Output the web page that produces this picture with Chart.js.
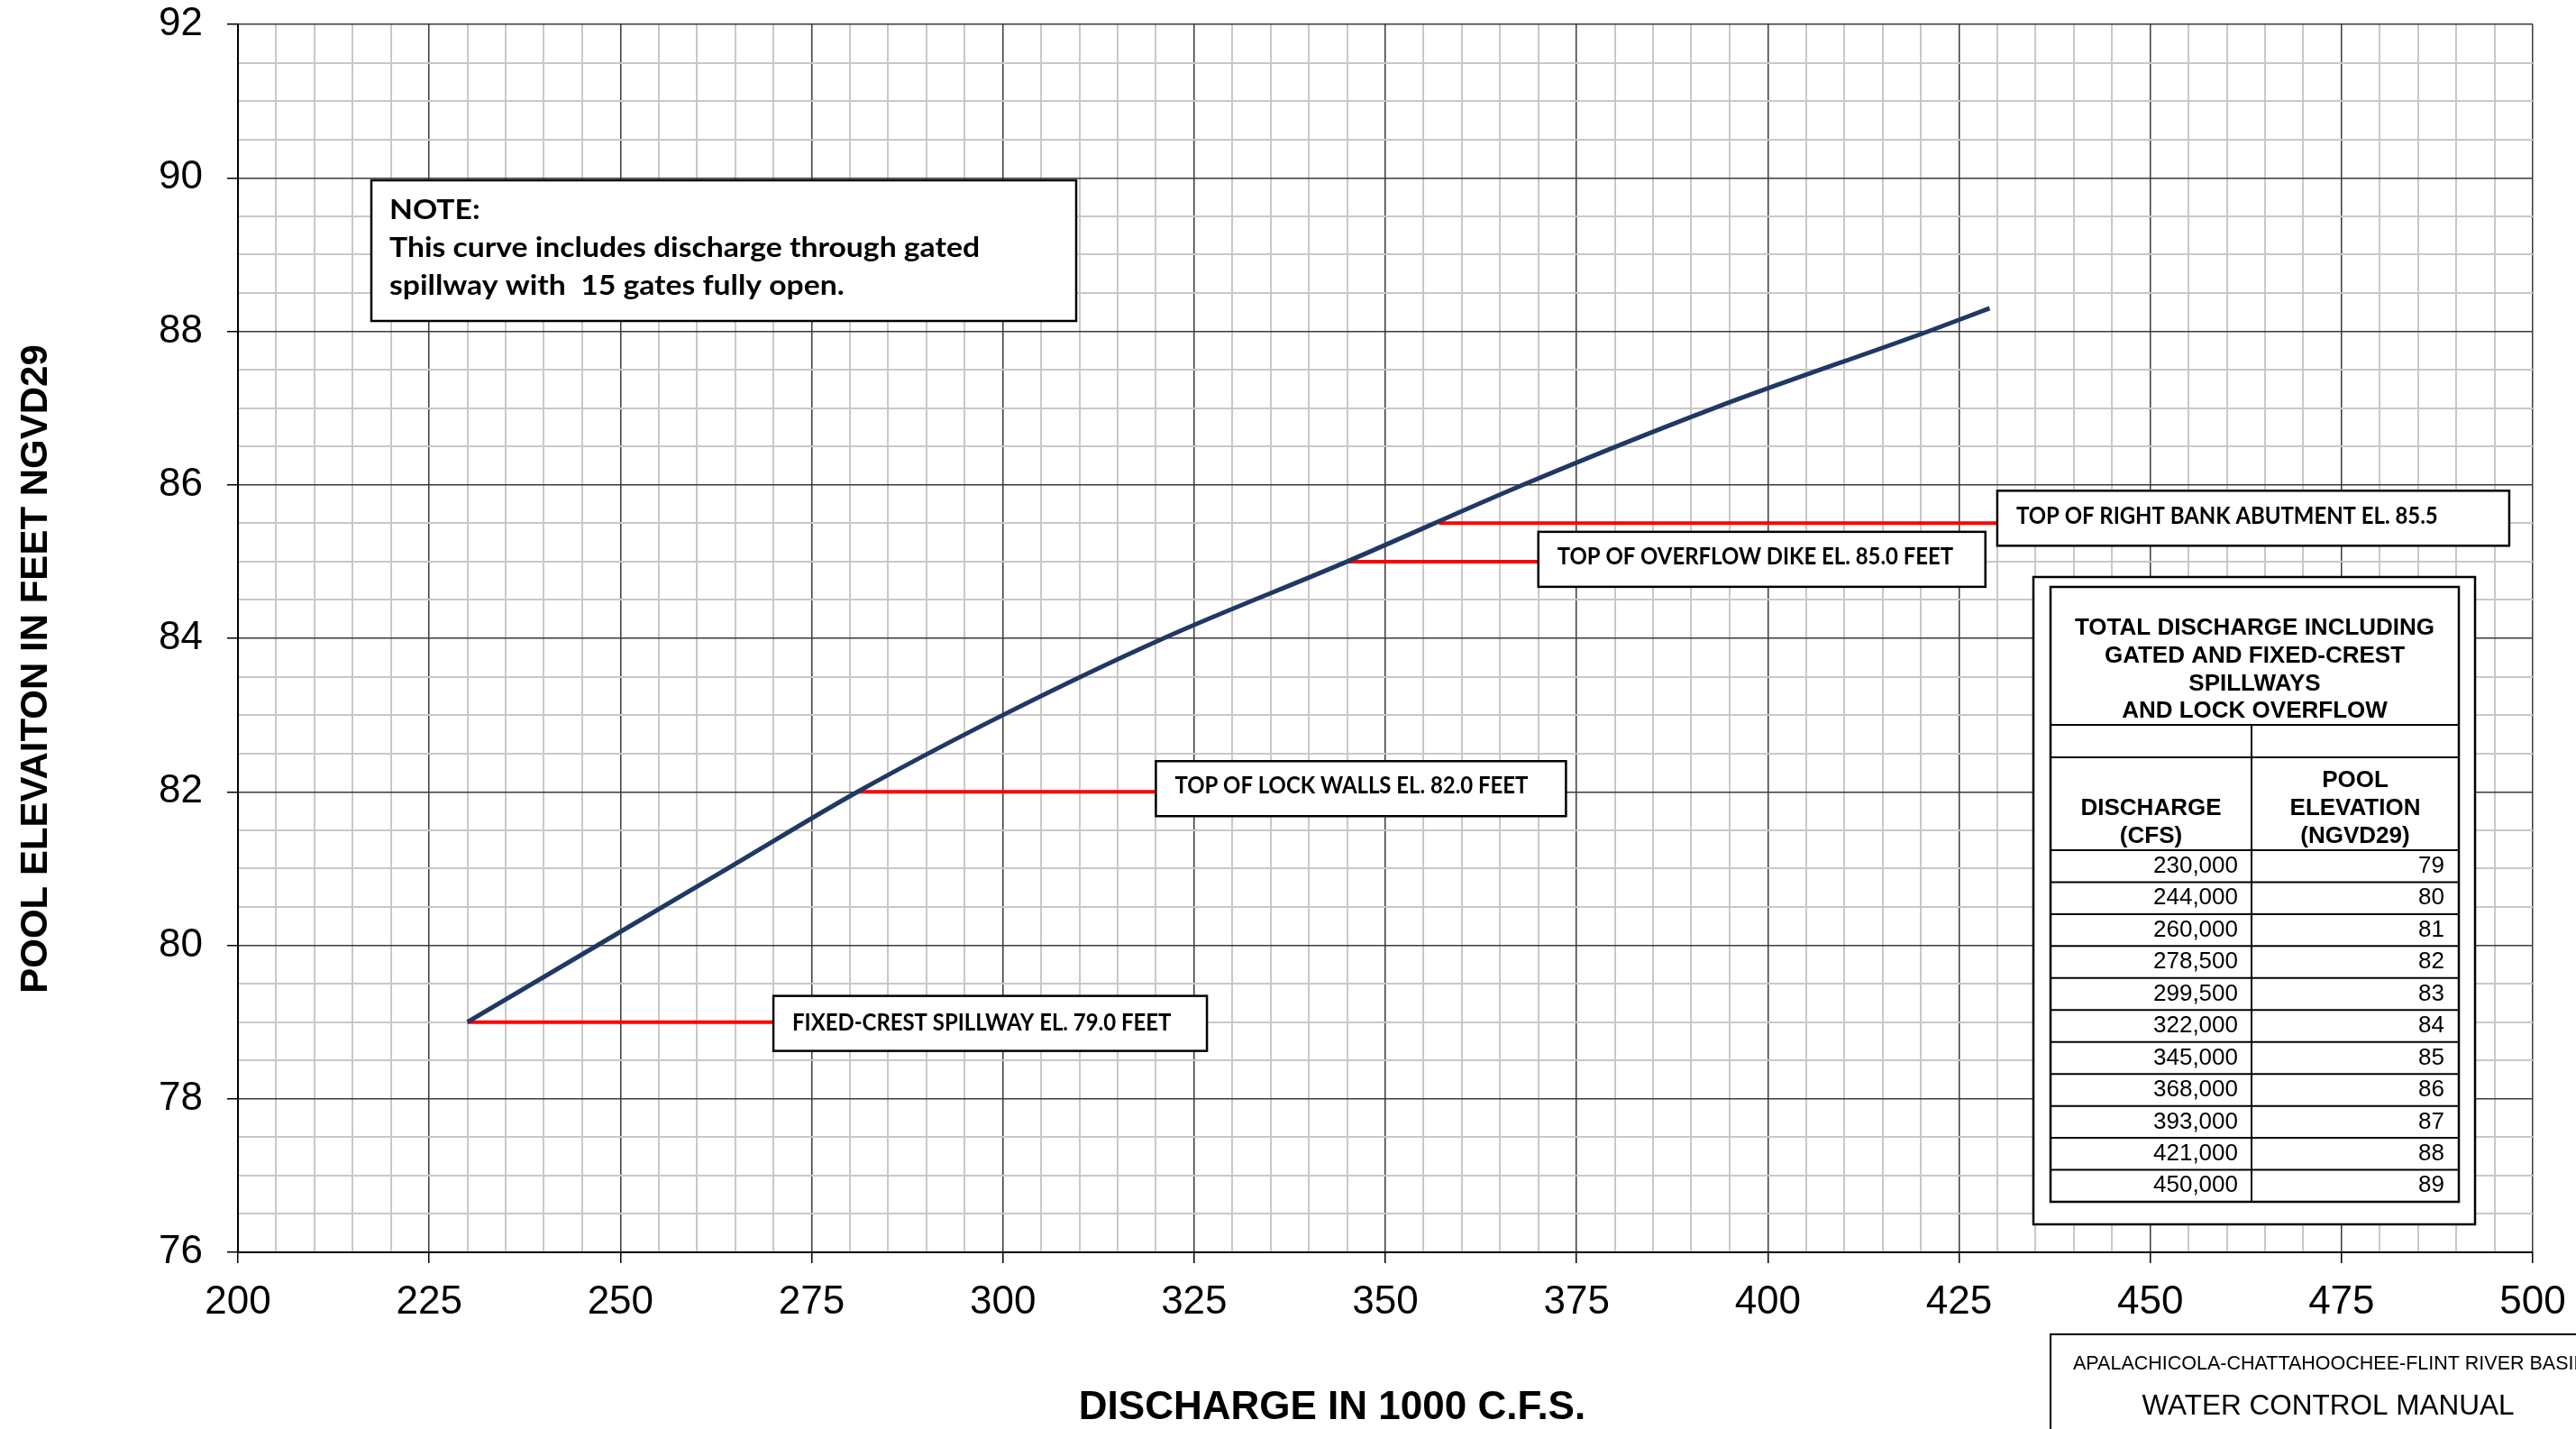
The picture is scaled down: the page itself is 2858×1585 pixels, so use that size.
<!DOCTYPE html>
<html>
<head>
<meta charset="utf-8">
<script src="https://cdn.jsdelivr.net/npm/chart.js@4.4.1/dist/chart.umd.min.js"></script>
<style>
html, body { margin: 0; padding: 0; background: #fff; }
#wrap { position: relative; width: 2858px; height: 1585px; }
</style>
</head>
<body>
<div id="wrap"><canvas id="curva"></canvas></div>
<script>
// rating curve (1000 cfs vs feet NGVD29)
const discharge = [230, 247, 264, 281, 300, 321, 345, 368, 393, 421, 429];
const elevation = [79, 80, 81, 82, 83, 84, 85, 86, 87, 88, 88.3];

// red reference levels and where they run to
const markLevel = [79, 82, 85, 85.5];
const markStart = [230, 281, 345, 357];
const markEnd = [270, 320, 370, 430];
const markText = [
    'FIXED-CREST SPILLWAY EL. 79.0 FEET',
    'TOP OF LOCK WALLS EL. 82.0 FEET',
    'TOP OF OVERFLOW DIKE EL. 85.0 FEET',
    'TOP OF RIGHT BANK ABUTMENT EL. 85.5'
];

// table on the right side
const tableCfs = [230000, 244000, 260000, 278500, 299500, 322000, 345000, 368000, 393000, 421000, 450000];
const tablePool = [79, 80, 81, 82, 83, 84, 85, 86, 87, 88, 89];

// labelled ticks
const xMajor = [200, 225, 250, 275, 300, 325, 350, 375, 400, 425, 450, 475, 500];
const yMajor = [76, 78, 80, 82, 84, 86, 88, 90, 92];

// box layout for the callouts: [top from line, width, text baseline from line]
const calloutBox = [[-29, 481, 9], [-34, 455, 2], [-33, 496, 3], [-36, 568, 1]];

const noteLines = ['NOTE:', 'This curve includes discharge through gated', 'spillway with  15 gates fully open.'];

const curveData = discharge.map((d, i) => ({ x: d, y: elevation[i] }));
const markSets = markLevel.map((lv, i) => ({
    data: [{ x: markStart[i], y: lv }, { x: markEnd[i], y: lv }],
    borderColor: '#ff0000',
    borderWidth: 4,
    pointRadius: 0,
    order: 2
}));

function squeezed(ctx, text, x, y, k) {
    ctx.save();
    ctx.translate(x, y);
    ctx.scale(k, 1);
    ctx.fillText(text, 0, 0);
    ctx.restore();
}

const sheetExtras = {
    id: 'sheetExtras',
    afterDraw(chart) {
        const ctx = chart.ctx;
        const xs = chart.scales.x, ys = chart.scales.y;
        ctx.save();
        ctx.fillStyle = '#000';
        ctx.strokeStyle = '#000';

        // axis titles
        ctx.textAlign = 'center';
        ctx.textBaseline = 'middle';
        ctx.font = 'bold 44px "Liberation Sans", Arial';
        ctx.fillText('DISCHARGE IN 1000 C.F.S.', 1478, 1562);
        ctx.save();
        ctx.translate(40, 742);
        ctx.rotate(-Math.PI / 2);
        ctx.font = 'bold 42px "Liberation Sans", Arial';
        ctx.fillText('POOL ELEVAITON IN FEET NGVD29', 0, 0);
        ctx.restore();

        // note box
        ctx.fillStyle = '#fff';
        ctx.fillRect(412, 200, 782, 156);
        ctx.lineWidth = 2.5;
        ctx.strokeRect(412, 200, 782, 156);
        ctx.fillStyle = '#000';
        ctx.textAlign = 'left';
        ctx.textBaseline = 'alphabetic';
        ctx.font = 'bold 31px Lato';
        const kn = 655 / ctx.measureText(noteLines[1]).width;
        squeezed(ctx, noteLines[0], 432, 243, kn);
        squeezed(ctx, noteLines[1], 432, 285, kn);
        squeezed(ctx, noteLines[2], 432, 327, kn);

        // callouts at the red lines
        ctx.font = 'bold 26px Lato';
        const kc = 392 / ctx.measureText(markText[1]).width;
        markText.forEach((t, i) => {
            const bx = xs.getPixelForValue(markEnd[i]);
            const ly = ys.getPixelForValue(markLevel[i]);
            const [dy, w, ty] = calloutBox[i];
            ctx.fillStyle = '#fff';
            ctx.fillRect(bx, ly + dy, w, 61);
            ctx.lineWidth = 2.5;
            ctx.strokeRect(bx, ly + dy, w, 61);
            ctx.fillStyle = '#000';
            squeezed(ctx, t, bx + 21, ly + ty, kc);
        });

        // table
        ctx.fillStyle = '#fff';
        ctx.fillRect(2256, 640, 490, 718);
        ctx.lineWidth = 2.5;
        ctx.strokeRect(2256, 640, 490, 718);
        const ix0 = 2275, iy0 = 651, ix1 = 2728, iy1 = 1333, colX = 2498;
        const rowTop = 943, rowH = (iy1 - rowTop) / tableCfs.length;
        ctx.strokeRect(ix0, iy0, ix1 - ix0, iy1 - iy0);
        ctx.lineWidth = 2;
        ctx.beginPath();
        [804, 840, rowTop].forEach(y => { ctx.moveTo(ix0, y); ctx.lineTo(ix1, y); });
        for (let i = 1; i < tableCfs.length; i++) {
            const y = rowTop + rowH * i;
            ctx.moveTo(ix0, y); ctx.lineTo(ix1, y);
        }
        ctx.moveTo(colX, 804); ctx.lineTo(colX, iy1);
        ctx.stroke();

        ctx.fillStyle = '#000';
        ctx.textAlign = 'center';
        ctx.textBaseline = 'middle';
        ctx.font = 'bold 26px "Liberation Sans", Arial';
        const midX = (ix0 + ix1) / 2;
        ['TOTAL DISCHARGE INCLUDING', 'GATED AND FIXED-CREST', 'SPILLWAYS', 'AND LOCK OVERFLOW']
            .forEach((t, i) => ctx.fillText(t, midX, 697 + i * 30.7));
        ctx.fillText('DISCHARGE', (ix0 + colX) / 2, 897);
        ctx.fillText('(CFS)', (ix0 + colX) / 2, 928);
        ctx.fillText('POOL', (colX + ix1) / 2, 866);
        ctx.fillText('ELEVATION', (colX + ix1) / 2, 897);
        ctx.fillText('(NGVD29)', (colX + ix1) / 2, 928);

        ctx.textAlign = 'right';
        ctx.font = '26px "Liberation Sans", Arial';
        tableCfs.forEach((v, i) => {
            const y = rowTop + rowH * (i + 0.5);
            ctx.fillText(v.toLocaleString('en-US'), colX - 15, y);
            ctx.fillText(String(tablePool[i]), ix1 - 16, y);
        });

        // title block, cut off by the page edge
        ctx.lineWidth = 2;
        ctx.strokeRect(2275, 1480, 700, 300);
        ctx.textAlign = 'left';
        ctx.font = '21.5px "Liberation Sans", Arial';
        ctx.fillText('APALACHICOLA-CHATTAHOOCHEE-FLINT RIVER BASIN', 2300, 1513);
        ctx.textAlign = 'center';
        ctx.font = '31.5px "Liberation Sans", Arial';
        ctx.fillText('WATER CONTROL MANUAL', 2583, 1560);

        ctx.restore();
    }
};

const isMajor = (list, c) => c.tick && list.includes(c.tick.value);

const ctCurva = document.getElementById('curva').getContext('2d');
const curva = new Chart(ctCurva, {
    type: 'line',
    data: {
        datasets: [{
            data: curveData,
            borderColor: '#1f3864',
            borderWidth: 5,
            pointRadius: 0,
            cubicInterpolationMode: 'monotone',
            order: 0
        }, ...markSets]
    },
    options: {
        responsive: true,
        maintainAspectRatio: false,
        animation: false,
        devicePixelRatio: 1,
        layout: { autoPadding: false, padding: { left: 0, top: 27, right: 48, bottom: 0 } },
        plugins: { legend: { display: false }, tooltip: { enabled: false } },
        scales: {
            x: {
                type: 'linear',
                min: 200,
                max: 500,
                afterFit: s => {
                    s.height = 196;
                    s.paddingLeft = 0; s.paddingRight = 0;
                    s.paddingTop = 0; s.paddingBottom = 0;
                },
                ticks: {
                    stepSize: 5,
                    autoSkip: false,
                    maxRotation: 0,
                    padding: 17,
                    color: '#000',
                    font: { family: '"Liberation Sans", Arial', size: 44 },
                    callback: v => xMajor.includes(v) ? v : ''
                },
                grid: {
                    color: c => isMajor(xMajor, c) ? '#3a3a3a' : '#c8c8c8',
                    lineWidth: c => isMajor(xMajor, c) ? 1.5 : 2,
                    tickLength: 12,
                    tickColor: c => isMajor(xMajor, c) ? '#000' : 'rgba(0,0,0,0)'
                },
                border: { color: '#000', width: 2 }
            },
            y: {
                type: 'linear',
                min: 76,
                max: 92,
                afterFit: s => {
                    s.width = 264;
                    s.paddingLeft = 0; s.paddingRight = 0;
                    s.paddingTop = 0; s.paddingBottom = 0;
                },
                ticks: {
                    stepSize: 0.5,
                    autoSkip: false,
                    padding: 27,
                    color: '#000',
                    font: { family: '"Liberation Sans", Arial', size: 44 },
                    callback: v => yMajor.includes(v) ? v : ''
                },
                grid: {
                    color: c => isMajor(yMajor, c) ? '#3a3a3a' : '#c8c8c8',
                    lineWidth: c => isMajor(yMajor, c) ? 1.5 : 2,
                    tickLength: 12,
                    tickColor: c => isMajor(yMajor, c) ? '#000' : 'rgba(0,0,0,0)'
                },
                border: { color: '#000', width: 2 }
            }
        }
    },
    plugins: [sheetExtras]
});
</script>
</body>
</html>
